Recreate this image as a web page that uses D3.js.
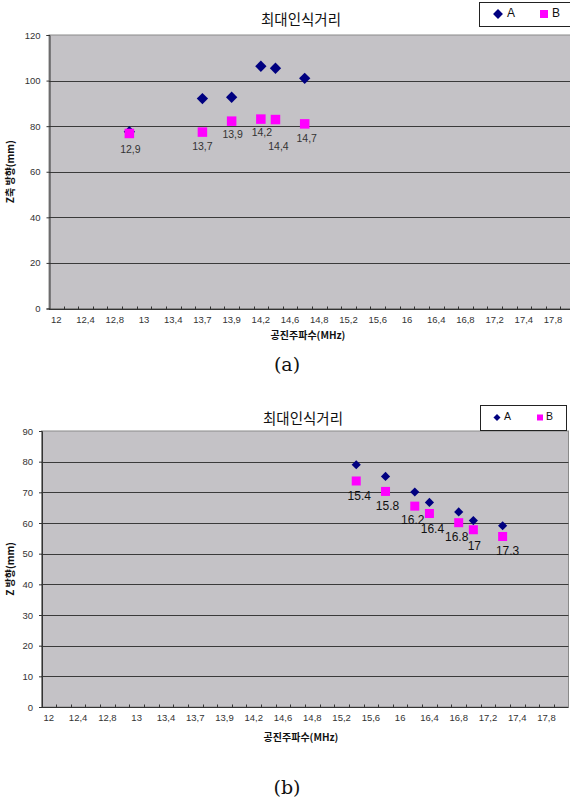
<!DOCTYPE html>
<html>
<head>
<meta charset="utf-8">
<script src="https://cdn.jsdelivr.net/npm/d3@7"></script>
<style>
  html, body { margin: 0; padding: 0; background: #fff; }
  svg { display: block; }
</style>
</head>
<body>
<svg id="chart" width="570" height="802"></svg>
<script>
// ---------- data ----------
const categories = ["12","12.2","12.4","12.6","12.8","12.9","13","13.2","13.4","13.6","13.7","13.8","13.9","14","14.2","14.4","14.6","14.7","14.8","15","15.2","15.4","15.6","15.8","16","16.2","16.4","16.6","16.8","17","17.2","17.3","17.4","17.6","17.8","18"];
const tickCategories = ["12","12.4","12.8","13","13.4","13.7","13.9","14.2","14.6","14.8","15.2","15.6","16","16.4","16.8","17.2","17.4","17.8"];
const tickLabels = ["12","12,4","12,8","13","13,4","13,7","13,9","14,2","14,6","14,8","15,2","15,6","16","16,4","16,8","17,2","17,4","17,8"];

const title = "최대인식거리";
const xTitle = "공진주파수(MHz)";
const seriesNames = ["A", "B"];

// chart (a)
const freqA = ["12.9","13.7","13.9","14.2","14.4","14.7"];
const aSeriesA = [77.6, 92.1, 92.7, 106.3, 105.4, 101.0];
const aSeriesB = [76.8, 77.4, 82.2, 83.1, 82.9, 81.0];
const aLabels = ["12,9","13,7","13,9","14,2","14,4","14,7"];
const aYTicks = [0, 20, 40, 60, 80, 100, 120];
const aYTitle = "Z축 방향(mm)";

// chart (b)
const freqB = ["15.4","15.8","16.2","16.4","16.8","17","17.3"];
const bSeriesA = [79.0, 75.2, 70.1, 66.7, 63.6, 60.8, 59.1];
const bSeriesB = [73.7, 70.3, 65.5, 63.1, 60.1, 57.8, 55.6];
const bLabels = ["15.4","15.8","16.2","16.4","16.8","17","17.3"];
const bYTicks = [0, 10, 20, 30, 40, 50, 60, 70, 80, 90];
const bYTitle = "Z 방향(mm)";

// ---------- drawing ----------
const svg = d3.select("#chart");
const colA = "#000080", colB = "#FF00FF";
const sans = "'Liberation Sans', Arial, sans-serif";
const kr = "'Noto Sans CJK KR', 'Noto Sans', sans-serif";

function drawChart(cfg) {
  const g = svg.append("g");
  const x = d3.scaleBand().domain(categories).range([cfg.left, cfg.right]).padding(0);
  const y = d3.scaleLinear().domain([0, d3.max(cfg.yTicks)]).range([cfg.bottom, cfg.top]);
  const cx = c => x(c) + x.bandwidth() / 2;

  // plot background
  g.append("rect")
    .attr("x", cfg.left).attr("y", cfg.top)
    .attr("width", cfg.right - cfg.left).attr("height", cfg.bottom - cfg.top)
    .attr("fill", "#C4C2C6").attr("stroke", "#8a8a8a").attr("stroke-width", 1);

  // gridlines
  g.append("g").selectAll("line").data(cfg.yTicks.filter(v => v > 0 && v < d3.max(cfg.yTicks)))
    .join("line")
    .attr("x1", cfg.left).attr("x2", cfg.right)
    .attr("y1", d => Math.round(y(d)) + 0.5).attr("y2", d => Math.round(y(d)) + 0.5)
    .attr("stroke", "#3a3a3a").attr("stroke-width", 1);

  // y axis
  const yAxis = g.append("g").attr("transform", `translate(${cfg.left + 0.5},0)`)
    .call(d3.axisLeft(y).tickValues(cfg.yTicks).tickSize(3).tickPadding(6));
  yAxis.select(".domain").attr("stroke", "#333");
  yAxis.selectAll(".tick line").attr("stroke", "#333");
  yAxis.selectAll("text").attr("font-family", sans).attr("font-size", 9.5).attr("fill", "#333");

  // x axis
  const xb = Math.round(cfg.bottom) + 0.5;
  const xAxis = g.append("g").attr("transform", `translate(0,${xb})`)
    .call(d3.axisBottom(x).tickValues(tickCategories)
      .tickFormat((d, i) => tickLabels[i]).tickSize(0).tickPadding(cfg.xPad));
  xAxis.select(".domain").remove();
  xAxis.selectAll("text").attr("font-family", sans).attr("font-size", 9.5).attr("fill", "#333");
  g.append("line").attr("x1", cfg.left).attr("x2", cfg.right)
    .attr("y1", xb).attr("y2", xb).attr("stroke", "#333");
  // minor tick marks at category boundaries
  g.append("g").selectAll("line").data(categories.slice(1)).join("line")
    .attr("x1", d => Math.round(x(d)) + 0.5).attr("x2", d => Math.round(x(d)) + 0.5)
    .attr("y1", xb).attr("y2", xb - 3)
    .attr("stroke", "#333");

  // titles
  g.append("text").attr("x", cfg.titleX).attr("y", cfg.titleY)
    .attr("text-anchor", "middle").attr("font-family", kr).attr("font-size", 14.5)
    .attr("fill", "#111").text(title);
  g.append("text").attr("x", (cfg.left + cfg.right) / 2 - 4).attr("y", cfg.xTitleY)
    .attr("text-anchor", "middle").attr("font-family", kr).attr("font-weight", "bold")
    .attr("font-size", 10).attr("fill", "#111").text(xTitle);
  g.append("text")
    .attr("transform", `translate(${cfg.yTitleX},${(cfg.top + cfg.bottom) / 2}) rotate(-90)`)
    .attr("text-anchor", "middle").attr("font-family", kr).attr("font-weight", "bold")
    .attr("font-size", 10).attr("fill", "#111").text(cfg.yTitle);

  // series A (diamonds) then B (squares)
  const ds = cfg.mA;
  g.append("g").selectAll("path").data(cfg.freq).join("path")
    .attr("d", d3.symbol(d3.symbolSquare, ds * ds))
    .attr("transform", (d, i) => `translate(${cx(d)},${y(cfg.sA[i])}) rotate(45)`)
    .attr("fill", colA);
  const ss = cfg.mB;
  g.append("g").selectAll("rect").data(cfg.freq).join("rect")
    .attr("x", d => cx(d) - ss / 2).attr("y", (d, i) => y(cfg.sB[i]) - ss / 2)
    .attr("width", ss).attr("height", ss).attr("fill", colB);

  // data labels (below B markers)
  g.append("g").selectAll("text").data(cfg.freq).join("text")
    .attr("x", (d, i) => cx(d) + cfg.labelDx[i])
    .attr("y", (d, i) => y(cfg.sB[i]) + cfg.labelDy[i])
    .attr("text-anchor", "middle").attr("dominant-baseline", "middle")
    .attr("font-family", sans).attr("font-size", cfg.labelSize).attr("fill", cfg.labelColor)
    .text((d, i) => cfg.labels[i]);

  // legend
  const L = cfg.legend;
  g.append("rect").attr("x", L.x + 0.5).attr("y", L.y + 0.5).attr("width", L.w).attr("height", L.h)
    .attr("fill", "#fff").attr("stroke", "#222").attr("stroke-width", 1);
  const ly = L.y + L.h / 2;
  g.append("path").attr("d", d3.symbol(d3.symbolSquare, L.m * L.m))
    .attr("transform", `translate(${L.x + L.aDx},${ly}) rotate(45)`).attr("fill", colA);
  g.append("text").attr("x", L.x + L.aDx + L.tDx).attr("y", ly).attr("dominant-baseline", "middle")
    .attr("font-family", sans).attr("font-size", L.fs).attr("fill", "#111").text(seriesNames[0]);
  g.append("rect").attr("x", L.x + L.bDx - L.sq / 2).attr("y", ly - L.sq / 2)
    .attr("width", L.sq).attr("height", L.sq).attr("fill", colB);
  g.append("text").attr("x", L.x + L.bDx + L.tDx - 1).attr("y", ly).attr("dominant-baseline", "middle")
    .attr("font-family", sans).attr("font-size", L.fs).attr("fill", "#111").text(seriesNames[1]);

  // caption
  g.append("text").attr("x", 287).attr("y", cfg.capY)
    .attr("text-anchor", "middle").attr("dominant-baseline", "middle")
    .attr("font-family", "'DejaVu Serif', 'Liberation Serif', serif").attr("font-size", 19)
    .attr("fill", "#111").text(cfg.caption);
}

drawChart({
  left: 49, right: 575, top: 35, bottom: 308.5,
  yTicks: aYTicks, yTitle: aYTitle, yTitleX: 14,
  freq: freqA, sA: aSeriesA, sB: aSeriesB, labels: aLabels,
  labelDx: [1, 0, 1, 1, 3, 2], labelDy: [17, 15, 14.5, 14, 28, 15.5],
  labelSize: 10.5, labelColor: "#333",
  mA: 8, mB: 9.5, xPad: 7,
  titleX: 301, titleY: 25, xTitleY: 339,
  legend: { x: 479, y: 2, w: 92, h: 24, aDx: 19, bDx: 65, tDx: 9, m: 7, sq: 8, fs: 12 },
  caption: "(a)", capY: 366
});

drawChart({
  left: 41.5, right: 568.5, top: 431, bottom: 707,
  yTicks: bYTicks, yTitle: bYTitle, yTitleX: 14,
  freq: freqB, sA: bSeriesA, sB: bSeriesB, labels: bLabels,
  labelDx: [3, 2, -2, 3, -2, 1, 5], labelDy: [16, 15, 14.5, 16.5, 15, 17, 15.5],
  labelSize: 12, labelColor: "#111",
  mA: 6.5, mB: 9, xPad: 7,
  titleX: 303, titleY: 424, xTitleY: 741,
  legend: { x: 480, y: 405, w: 86, h: 25, aDx: 17, bDx: 60, tDx: 7, m: 5, sq: 6, fs: 10.5 },
  caption: "(b)", capY: 789
});
</script>
</body>
</html>
